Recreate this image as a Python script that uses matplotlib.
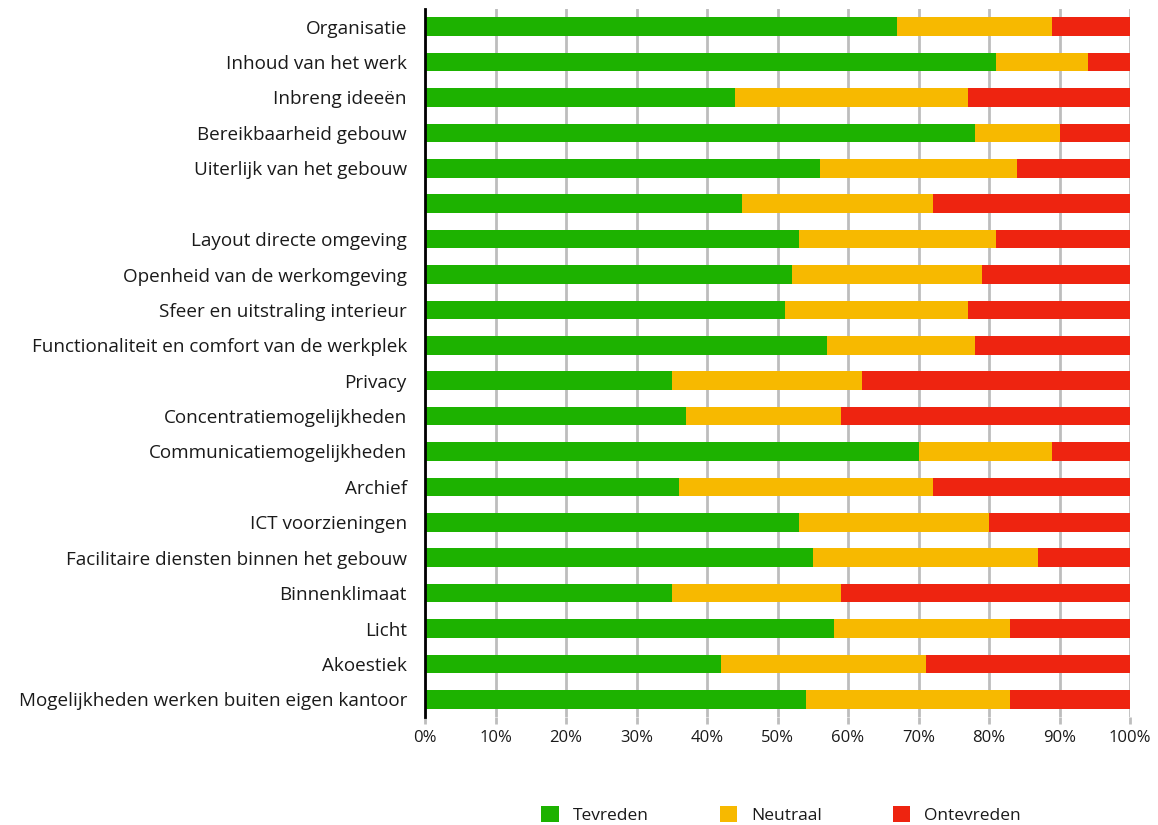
import numpy as np
import matplotlib.pyplot as plt

# categories, top to bottom as in the chart
categories = [
    "Organisatie",
    "Inhoud van het werk",
    "Inbreng ideeën",
    "Bereikbaarheid gebouw",
    "Uiterlijk van het gebouw",
    "",
    "Layout directe omgeving",
    "Openheid van de werkomgeving",
    "Sfeer en uitstraling interieur",
    "Functionaliteit en comfort van de werkplek",
    "Privacy",
    "Concentratiemogelijkheden",
    "Communicatiemogelijkheden",
    "Archief",
    "ICT voorzieningen",
    "Facilitaire diensten binnen het gebouw",
    "Binnenklimaat",
    "Licht",
    "Akoestiek",
    "Mogelijkheden werken buiten eigen kantoor",
]

tevreden = [67, 81, 44, 78, 56, 45, 53, 52, 51, 57, 35, 37, 70, 36, 53, 55, 35, 58, 42, 54]
neutraal = [22, 13, 33, 12, 28, 27, 28, 27, 26, 21, 27, 22, 19, 36, 27, 32, 24, 25, 29, 29]
ontevreden = [11, 6, 23, 10, 16, 28, 19, 21, 23, 22, 38, 41, 11, 28, 20, 13, 41, 17, 29, 17]

series_names = ["Tevreden", "Neutraal", "Ontevreden"]
colors = ["#1db200", "#f7b900", "#ee2410"]

plt.rcParams['font.family'] = ['Open Sans', 'DejaVu Sans']

fig = plt.figure(figsize=(11.58, 8.25), dpi=100)
ax = fig.add_axes([425 / 1158, 1 - 717 / 825, 705 / 1158, 708 / 825])

y = np.arange(len(categories))
left = np.zeros(len(categories))
for vals, name, col in zip([tevreden, neutraal, ontevreden], series_names, colors):
    vals = np.array(vals, dtype=float)
    ax.barh(y, vals, left=left, height=0.52, color=col, label=name, zorder=3)
    left += vals

ax.set_xlim(0, 100)
ax.set_ylim(len(categories) - 0.5, -0.5)
ax.set_xticks(np.arange(0, 101, 10))
ax.set_xticklabels([f"{v}%" for v in range(0, 101, 10)], fontsize=12, color="#1a1a1a")
ax.set_yticks(y)
ax.set_yticklabels(categories, fontsize=13.6, color="#1a1a1a")
ax.tick_params(axis='y', length=0, pad=13)
ax.tick_params(axis='x', length=5, width=2, color="#bdbdbd", pad=4)

ax.grid(axis='x', color="#bdbdbd", linewidth=2, zorder=0)
for s in ['top', 'right', 'bottom']:
    ax.spines[s].set_visible(False)
ax.spines['left'].set_linewidth(2)
ax.spines['left'].set_color("black")
ax.spines['left'].set_zorder(4)

fig.legend(loc='center', bbox_to_anchor=(781 / 1158, 1 - 815 / 825), ncol=3,
           frameon=False, fontsize=12.5, handlelength=1.0, handleheight=1.0,
           columnspacing=4.1, handletextpad=0.8, labelcolor="#1a1a1a")

plt.savefig("out.png", dpi=100)
